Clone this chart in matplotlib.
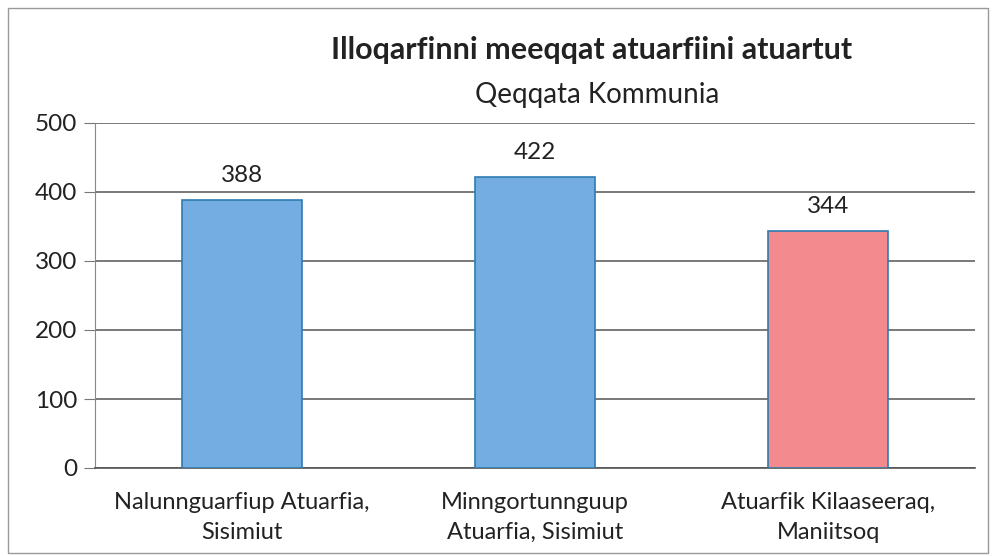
import numpy as np
import matplotlib.pyplot as plt
from matplotlib.patches import Rectangle

plt.rcParams['font.family'] = ['Lato', 'DejaVu Sans']

categories = ['Nalunnguarfiup Atuarfia,\nSisimiut', 'Minngortunnguup\nAtuarfia, Sisimiut', 'Atuarfik Kilaaseeraq,\nManiitsoq']
values = [388, 422, 344]
colors = ['#74ade2', '#74ade2', '#f28a8e']
yticks = [0, 100, 200, 300, 400, 500]

fig = plt.figure(figsize=(9.92, 5.56), dpi=100)
ax = fig.add_axes([95/992, 1-468/556, 880/992, 345/556])

x = np.arange(len(categories))
ax.bar(x, values, width=0.41, color=colors, edgecolor='#2f7bb0', linewidth=1.2, zorder=3)

for xi, v in zip(x, values):
    ax.text(xi, v + 20, str(v), ha='center', va='bottom', fontsize=17.5, color='#222222')

ax.set_ylim(0, 500)
ax.set_xlim(-0.5, 2.5)
ax.set_yticks(yticks)
ax.set_xticks(x)
ax.set_xticklabels(categories, fontsize=17, color='#222222', linespacing=1.55)
ax.tick_params(axis='y', labelsize=17.5, length=8, color='#777777', labelcolor='#222222', pad=5)
ax.tick_params(axis='x', length=0, pad=17)
ax.yaxis.grid(True, color='#555555', linewidth=1.1, zorder=0)
for s in ['top', 'right']:
    ax.spines[s].set_visible(False)
ax.spines['left'].set_color('#888888')
ax.spines['bottom'].set_color('#555555')
ax.spines['bottom'].set_linewidth(1.2)

fig.text(592/992, 1 - 50/556, 'Illoqarfinni meeqqat atuarfiini atuartut', ha='center', va='center',
         fontsize=22, fontweight='bold', color='#222222')
fig.text(597/992, 1 - 95/556, 'Qeqqata Kommunia', ha='center', va='center', fontsize=20, color='#222222')

fig.patches.append(Rectangle((8/992, 0.005), 980/992, 1 - 8/556 - 0.005, transform=fig.transFigure,
                             fill=False, edgecolor='#999999', linewidth=1))

fig.savefig('out.png', dpi=100)
